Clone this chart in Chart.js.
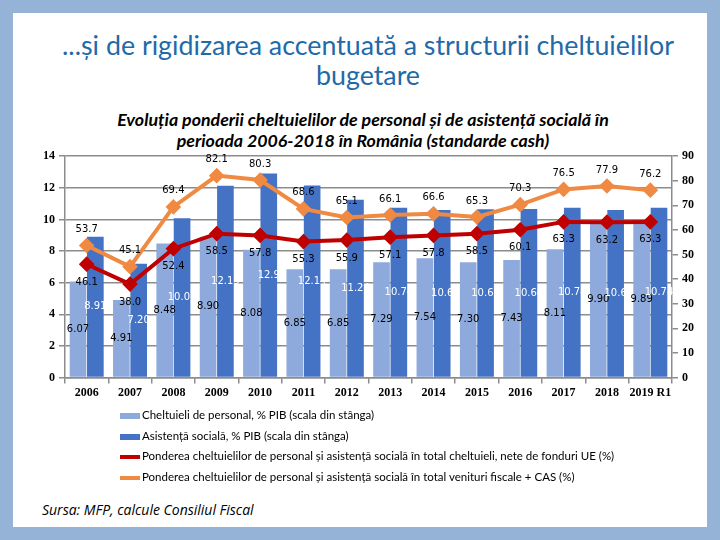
<!DOCTYPE html>
<html>
<head>
<meta charset="utf-8">
<script src="https://cdn.jsdelivr.net/npm/chart.js@4.4.1/dist/chart.umd.min.js"></script>
<style>
  body { margin: 0; width: 720px; height: 540px; background: #95b3d7; position: relative; overflow: hidden; }
  #slide { position: absolute; left: 13px; top: 13px; width: 694px; height: 514px; background: #fff; }
  .abs { position: absolute; }
  #title { left: 8px; top: 30px; width: 720px; text-align: center; font-family: Lato, sans-serif; font-size: 26.8px; line-height: 30px; color: #1f6aa8; }
  #subtitle { left: 3px; top: 109px; width: 720px; text-align: center; font-family: Lato, sans-serif; font-style: italic; font-weight: bold; font-size: 17.8px; line-height: 21px; color: #000; }
  #chart { left: 13px; top: 145px; }
  #legend { left: 120px; top: 405px; font-family: Lato, sans-serif; font-size: 11.5px; color: #000; }
  #legend div { height: 20.7px; line-height: 20.7px; white-space: nowrap; }
  #legend span.sw { display: inline-block; width: 20px; vertical-align: middle; margin-right: 2px; position: relative; }
  #source { left: 42px; top: 500px; font-family: "Open Sans", sans-serif; font-style: italic; font-size: 14px; color: #000; }
</style>
</head>
<body>
<div id="slide"></div>
<div id="title" class="abs">...și de rigidizarea accentuată a structurii cheltuielilor<br>bugetare</div>
<div id="subtitle" class="abs">Evoluția ponderii cheltuielilor de personal și de asistență socială în<br>perioada 2006-2018 în România (standarde cash)</div>
<canvas id="chart" class="abs" width="694" height="265"></canvas>
<div id="legend" class="abs"></div>
<div id="source" class="abs">Sursa: MFP, calcule Consiliul Fiscal</div>

<script>
// categories
const years = ['2006', '2007', '2008', '2009', '2010', '2011', '2012', '2013', '2014', '2015', '2016', '2017', '2018', '2019 R1'];

// % PIB, left scale
const personal = [6.07, 4.91, 8.48, 8.90, 8.08, 6.85, 6.85, 7.29, 7.54, 7.30, 7.43, 8.11, 9.90, 9.89];
const asistenta = [8.91, 7.20, 10.07, 12.13, 12.9, 12.14, 11.24, 10.74, 10.6, 10.64, 10.66, 10.74, 10.6, 10.74];

// %, right scale
const pondCheltuieli = [46.1, 38.0, 52.4, 58.5, 57.8, 55.3, 55.9, 57.1, 57.8, 58.5, 60.1, 63.3, 63.2, 63.3];
const pondVenituri = [53.7, 45.1, 69.4, 82.1, 80.3, 68.6, 65.1, 66.1, 66.6, 65.3, 70.3, 76.5, 77.9, 76.2];

const seriesNames = [
    'Cheltuieli de personal, % PIB (scala din stânga)',
    'Asistență socială, % PIB (scala din stânga)',
    'Ponderea cheltuielilor de personal și asistență socială în total cheltuieli, nete de fonduri UE (%)',
    'Ponderea cheltuielilor de personal și asistență socială în total venituri fiscale + CAS (%)'
];

const cLight = '#8eaadc';
const cDark = '#4472c4';
const cRed = '#c00000';
const cOrange = '#f08a42';
const cGrid = '#8c8c8c';

// value labels drawn on top of everything, like in the excel original
const valueLabels = {
    id: 'valueLabels',
    afterDatasetsDraw(chart) {
        const ctx = chart.ctx;
        ctx.save();
        ctx.font = '10px "DejaVu Sans"';
        ctx.textAlign = 'center';
        ctx.textBaseline = 'middle';
        chart.data.datasets.forEach((ds, i) => {
            const meta = chart.getDatasetMeta(i);
            meta.data.forEach((el, j) => {
                const v = ds.data[j];
                let txt = String(v);
                if (i < 2 && v < 10 && txt.length < 4) txt = v.toFixed(2);
                if (ds.type === 'line') {
                    ctx.fillStyle = '#000';
                    const dy = i === 3 ? -16 : 18;
                    ctx.fillText(v.toFixed(1), el.x, el.y + dy);
                } else {
                    ctx.fillStyle = i === 1 ? '#fff' : '#000';
                    ctx.fillText(txt, el.x, (el.y + el.base) / 2);
                }
            });
        });
        ctx.restore();
    }
};

const tickFont = { family: '"Liberation Serif"', size: 12, weight: 'bold' };

new Chart(document.getElementById('chart'), {
    type: 'bar',
    data: {
        labels: years,
        datasets: [
            { label: seriesNames[0], data: personal, backgroundColor: cLight, yAxisID: 'y', order: 2 },
            { label: seriesNames[1], data: asistenta, backgroundColor: cDark, yAxisID: 'y', order: 2 },
            { type: 'line', label: seriesNames[2], data: pondCheltuieli, borderColor: cRed, backgroundColor: cRed,
              borderWidth: 4, pointStyle: 'rectRot', pointRadius: 5, yAxisID: 'y1', order: 1 },
            { type: 'line', label: seriesNames[3], data: pondVenituri, borderColor: cOrange, backgroundColor: cOrange,
              borderWidth: 4, pointStyle: 'rectRot', pointRadius: 5, yAxisID: 'y1', order: 0 }
        ]
    },
    options: {
        responsive: false,
        animation: false,
        devicePixelRatio: 1,
        layout: { padding: { left: 26, right: 9, top: 10, bottom: 8 } },
        datasets: { bar: { barPercentage: 0.96, categoryPercentage: 0.8 } },
        plugins: {
            legend: { display: false },
            tooltip: { enabled: false }
        },
        scales: {
            x: {
                grid: { drawOnChartArea: false, drawTicks: true, tickLength: 6, color: cGrid, lineWidth: 1.5 },
                border: { color: cGrid, width: 1.5 },
                ticks: { color: '#000', font: tickFont, padding: 2, minRotation: 0, maxRotation: 0, autoSkip: false }
            },
            y: {
                position: 'left',
                min: 0, max: 14,
                ticks: { stepSize: 2, color: '#000', font: tickFont, padding: 4 },
                grid: { color: cGrid, lineWidth: 1.5, tickLength: 6 },
                border: { color: cGrid, width: 1.5 }
            },
            y1: {
                position: 'right',
                min: 0, max: 90,
                ticks: { stepSize: 10, color: '#000', font: tickFont, padding: 4 },
                grid: { drawOnChartArea: false, color: cGrid, lineWidth: 1.5, tickLength: 6 },
                border: { color: cGrid, width: 1.5 }
            }
        }
    },
    plugins: [valueLabels]
});

// legend below the chart, one series per line
const legend = document.getElementById('legend');
const swatches = [
    '<span class="sw" style="height:6px;background:' + cLight + '"></span>',
    '<span class="sw" style="height:6px;background:' + cDark + '"></span>',
    '<span class="sw" style="height:4px;background:' + cRed + '"></span>',
    '<span class="sw" style="height:4px;background:' + cOrange + '"></span>'
];
seriesNames.forEach((name, i) => {
    const row = document.createElement('div');
    row.innerHTML = swatches[i] + name;
    legend.appendChild(row);
});
</script>
</body>
</html>
